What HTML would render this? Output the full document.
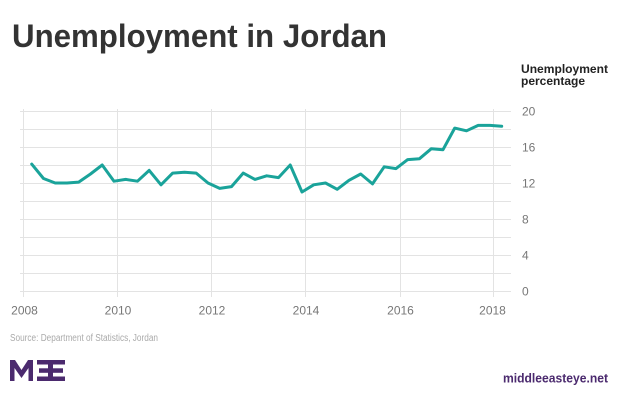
<!DOCTYPE html>
<html>
<head>
<meta charset="utf-8">
<style>
  html, body { margin: 0; padding: 0; background: #ffffff; }
  svg { display: block; }
  text { font-family: "Liberation Sans", "DejaVu Sans", sans-serif; }
</style>
</head>
<body>
<svg width="620" height="400" viewBox="0 0 620 400" xmlns="http://www.w3.org/2000/svg">
  <rect width="620" height="400" fill="#ffffff"/>

  <!-- Title -->
  <text x="12" y="47" font-size="32" font-weight="bold" fill="#333333" textLength="375" lengthAdjust="spacingAndGlyphs">Unemployment in Jordan</text>

  <!-- Axis title -->
  <text x="521" y="73" font-size="12" font-weight="bold" fill="#222222" textLength="87" lengthAdjust="spacingAndGlyphs">Unemployment</text>
  <text x="521" y="85" font-size="12" font-weight="bold" fill="#222222" textLength="64" lengthAdjust="spacingAndGlyphs">percentage</text>

  <!-- Horizontal gridlines -->
  <g stroke="#e3e3e3" stroke-width="1">
    <line x1="20" y1="111.5" x2="511" y2="111.5"/>
    <line x1="20" y1="129.5" x2="511" y2="129.5"/>
    <line x1="20" y1="147.5" x2="511" y2="147.5"/>
    <line x1="20" y1="165.5" x2="511" y2="165.5"/>
    <line x1="20" y1="183.5" x2="511" y2="183.5"/>
    <line x1="20" y1="201.5" x2="511" y2="201.5"/>
    <line x1="20" y1="219.5" x2="511" y2="219.5"/>
    <line x1="20" y1="237.5" x2="511" y2="237.5"/>
    <line x1="20" y1="255.5" x2="511" y2="255.5"/>
    <line x1="20" y1="273.5" x2="511" y2="273.5"/>
    <line x1="20" y1="291.5" x2="511" y2="291.5"/>
  </g>
  <!-- Vertical gridlines -->
  <g stroke="#e3e3e3" stroke-width="1">
    <line x1="23.5" y1="109" x2="23.5" y2="297"/>
    <line x1="117.5" y1="109" x2="117.5" y2="297"/>
    <line x1="211.5" y1="109" x2="211.5" y2="297"/>
    <line x1="305.5" y1="109" x2="305.5" y2="297"/>
    <line x1="400.5" y1="109" x2="400.5" y2="297"/>
    <line x1="493.5" y1="109" x2="493.5" y2="297"/>
  </g>

  <!-- Y tick labels -->
  <g font-size="12" fill="#777777">
    <text x="522" y="115.5">20</text>
    <text x="522" y="151.5">16</text>
    <text x="522" y="187.5">12</text>
    <text x="522" y="223.5">8</text>
    <text x="522" y="259.5">4</text>
    <text x="522" y="295.5">0</text>
  </g>

  <!-- X tick labels -->
  <g font-size="12" fill="#777777" text-anchor="middle">
    <text x="24.5" y="314.5">2008</text>
    <text x="118" y="314.5">2010</text>
    <text x="212" y="314.5">2012</text>
    <text x="306" y="314.5">2014</text>
    <text x="400.5" y="314.5">2016</text>
    <text x="492.5" y="314.5">2018</text>
  </g>

  <!-- Data line -->
  <polyline fill="none" stroke="#1aa39a" stroke-width="3" stroke-linejoin="round" stroke-linecap="round"
    points="31.7,164.1 43.5,178.5 55.2,183 67,183 78.7,182.1 90.5,174 102.2,165 114,181.2 125.7,179.4 137.5,181.2 149.2,170.4 161,184.8 172.7,173.1 184.5,172.2 196.2,173.1 208,183 219.7,188.4 231.5,186.6 243.2,173.1 255,179.4 266.7,175.8 278.5,177.6 290.2,165 302,192 313.7,184.8 325.5,183 337.2,189.3 349,180.3 360.7,174 372.5,183.9 384.2,166.8 396,168.6 407.7,159.6 419.5,158.7 431.2,148.8 443,149.7 454.7,128.1 466.5,130.8 478.2,125.4 490,125.4 501.7,126.3"/>

  <!-- Source -->
  <text x="10" y="341" font-size="10" fill="#aaaaaa" textLength="148" lengthAdjust="spacingAndGlyphs">Source: Department of Statistics, Jordan</text>

  <!-- MEE logo -->
  <g fill="#4b2a6e">
    <path d="M10,381 L10,360 L15,360 L21.5,370 L28,360 L33,360 L33,381 L28.5,381 L28.5,368 L21.5,378 L14.5,368 L14.5,381 Z"/>
    <rect x="48" y="360" width="5" height="21"/>
    <rect x="37" y="360" width="28" height="4.5"/>
    <rect x="39" y="368.3" width="24" height="4.5"/>
    <rect x="37" y="376.5" width="28" height="4.5"/>
  </g>

  <!-- middleeasteye.net -->
  <text x="503" y="382.5" font-size="13" font-weight="bold" fill="#4b2a6e" textLength="105" lengthAdjust="spacingAndGlyphs">middleeasteye.net</text>
</svg>
</body>
</html>
